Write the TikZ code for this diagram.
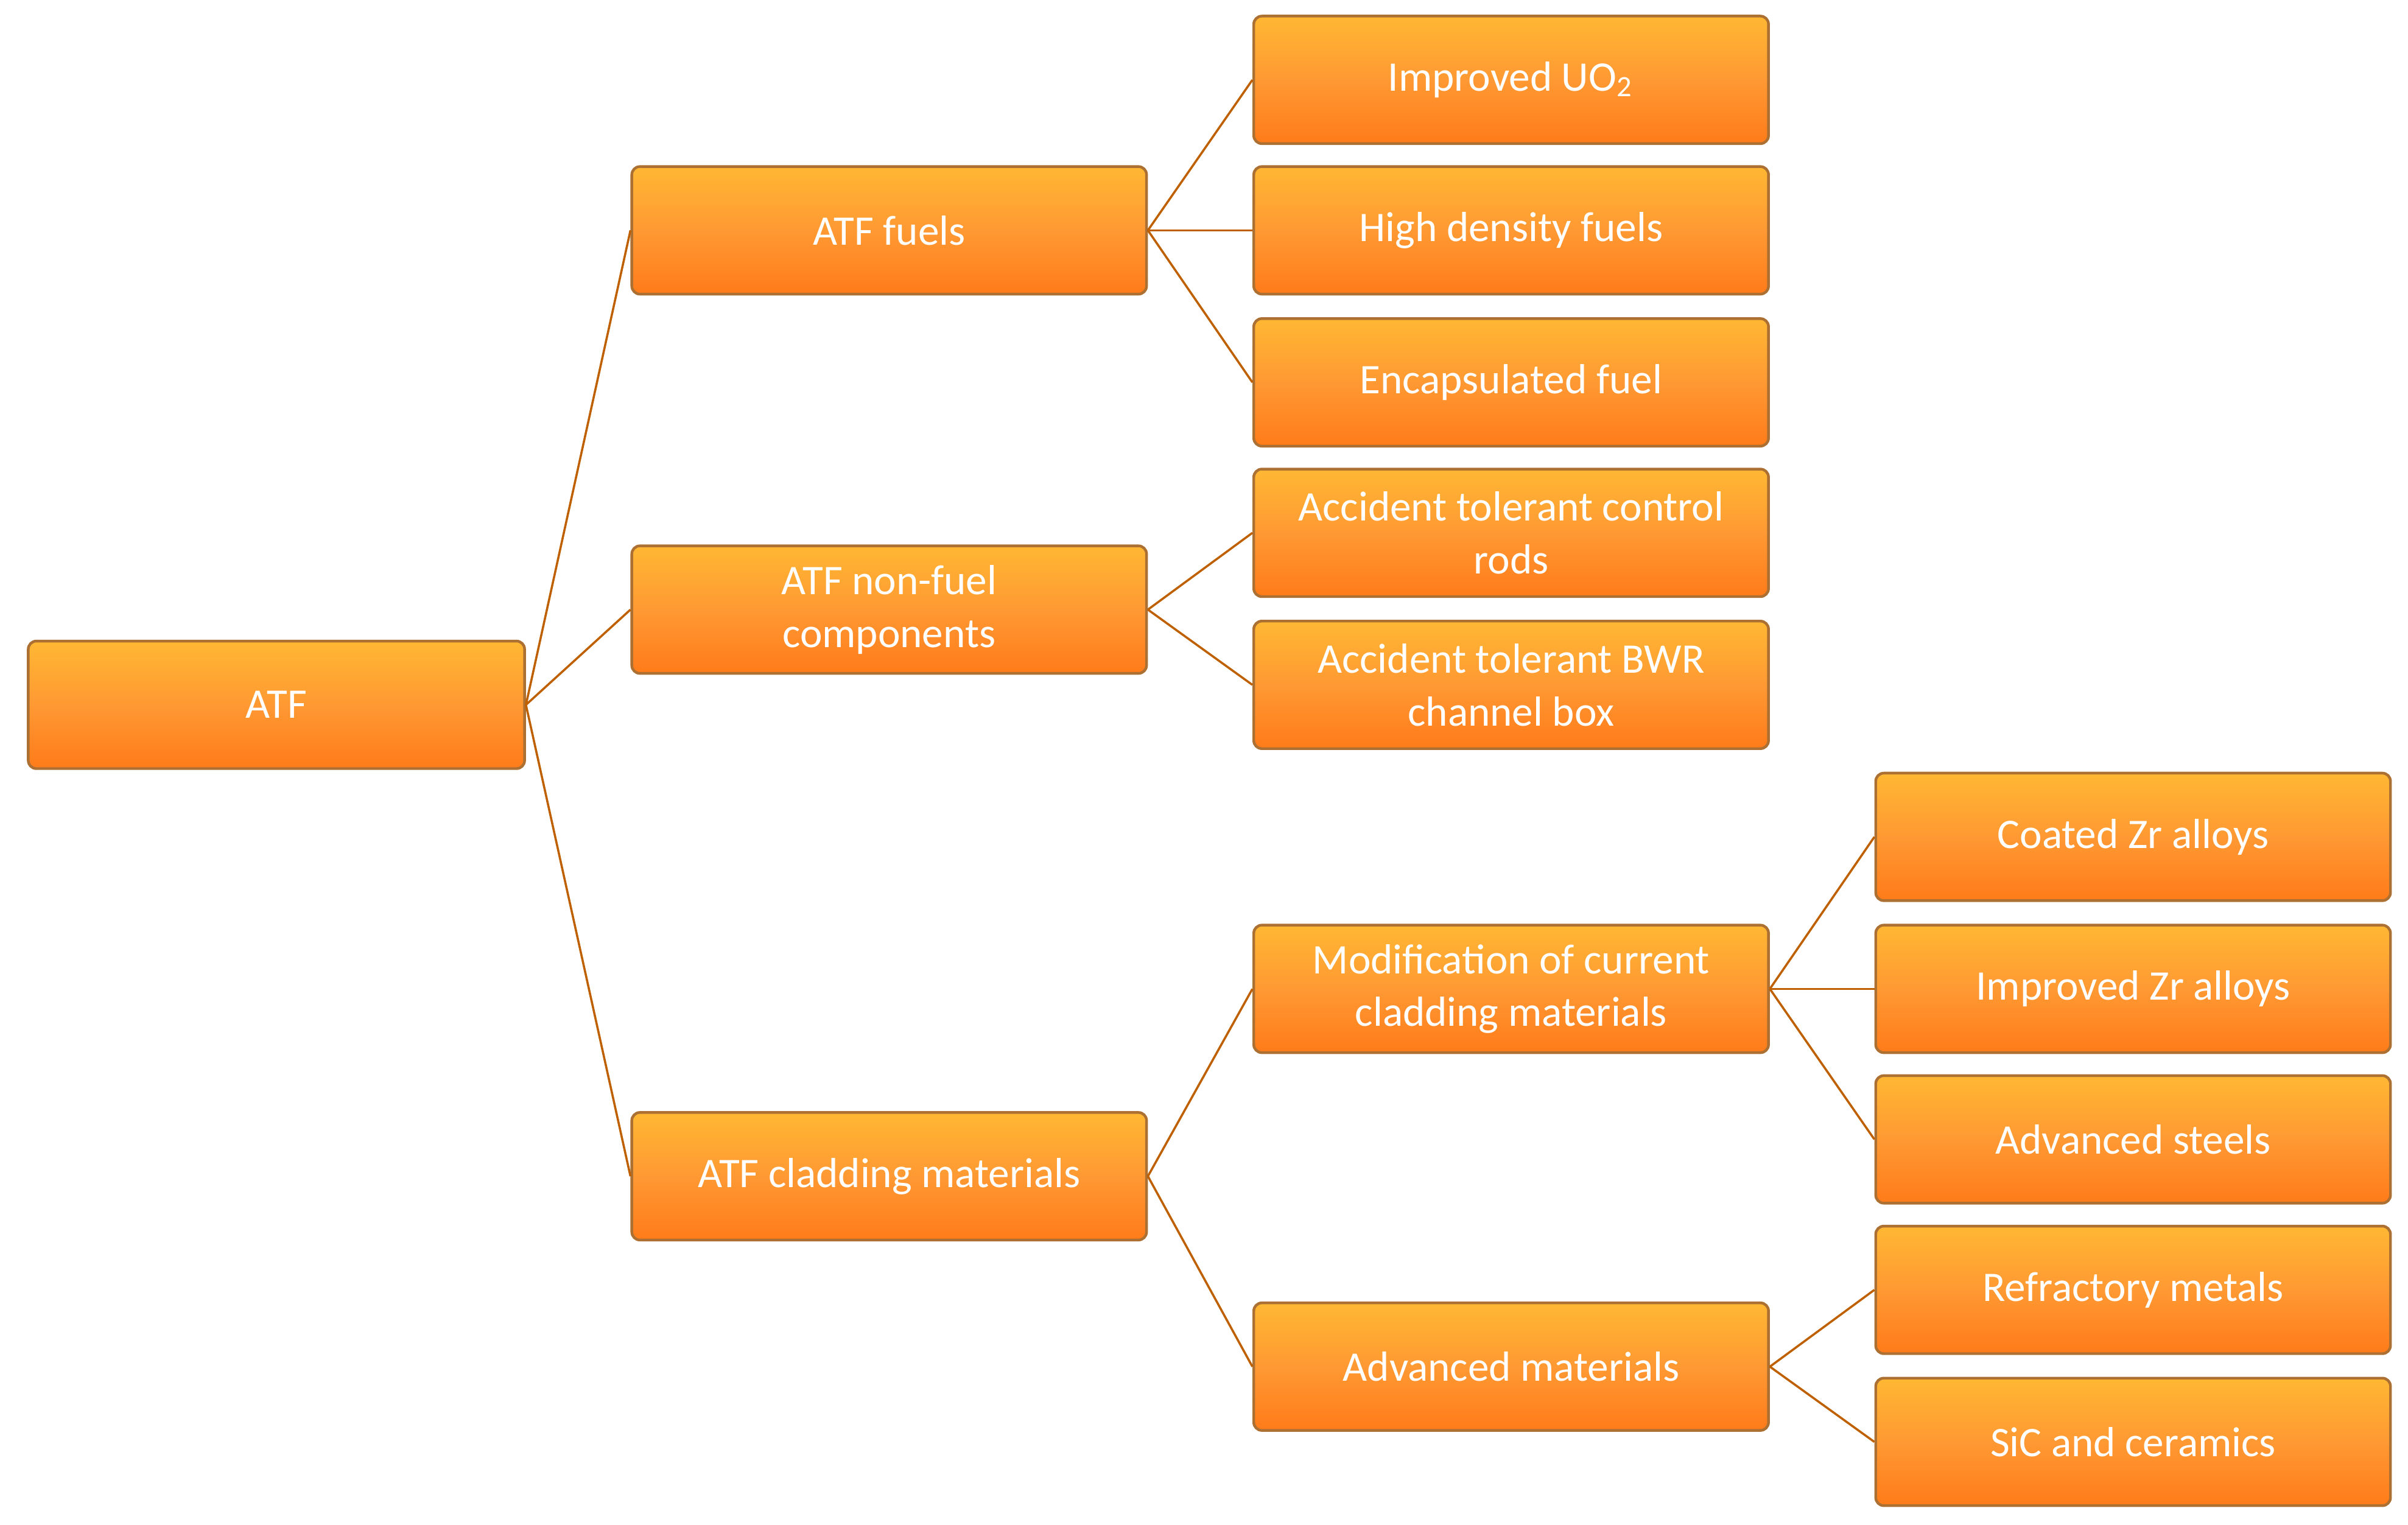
\documentclass[tikz,border=0pt]{standalone}
\usepackage{fontspec}
\setmainfont{Carlito}
\begin{document}
\begin{tikzpicture}[x=0.01cm,y=-0.01cm,
 box/.style={draw=orange!60!black!80,line width=0.5pt,rounded corners=1.5pt,
   top color=orange!70!yellow!80!white,bottom color=orange!85!red!90,middle color=orange!80!white,
   minimum width=3.35cm,minimum height=0.83cm,text=white,align=center,
   font=\fontsize{7.8}{9.8}\selectfont,inner sep=1pt},
 con/.style={draw=orange!75!black,line width=0.4pt}]
\useasboundingbox (0,0) rectangle (1568,993);
\node[box,minimum width=3.23cm] (atf) at (180,459) {ATF};
\node[box] (fuels) at (579,150) {ATF fuels};
\node[box] (nonfuel) at (579,397) {ATF non-fuel\\components};
\node[box] (clad) at (579,766) {ATF cladding materials};
\node[box] (uo2) at (984,52) {Improved UO\textsubscript{2}};
\node[box] (hd) at (984,150) {High density fuels};
\node[box] (enc) at (984,249) {Encapsulated fuel};
\node[box] (rods) at (984,347) {Accident tolerant control\\rods};
\node[box] (bwr) at (984,446) {Accident tolerant BWR\\channel box};
\node[box] (mod) at (984,644) {Modification of current\\cladding materials};
\node[box] (adv) at (984,890) {Advanced materials};
\node[box] (coat) at (1389,545) {Coated Zr alloys};
\node[box] (izr) at (1389,644) {Improved Zr alloys};
\node[box] (steel) at (1389,742) {Advanced steels};
\node[box] (refr) at (1389,840) {Refractory metals};
\node[box] (sic) at (1389,939) {SiC and ceramics};
\foreach \a/\b in {atf/fuels,atf/nonfuel,atf/clad,fuels/uo2,fuels/hd,fuels/enc,nonfuel/rods,nonfuel/bwr,clad/mod,clad/adv,mod/coat,mod/izr,mod/steel,adv/refr,adv/sic}
  \draw[con] (\a.east) -- (\b.west);
\end{tikzpicture}
\end{document}
